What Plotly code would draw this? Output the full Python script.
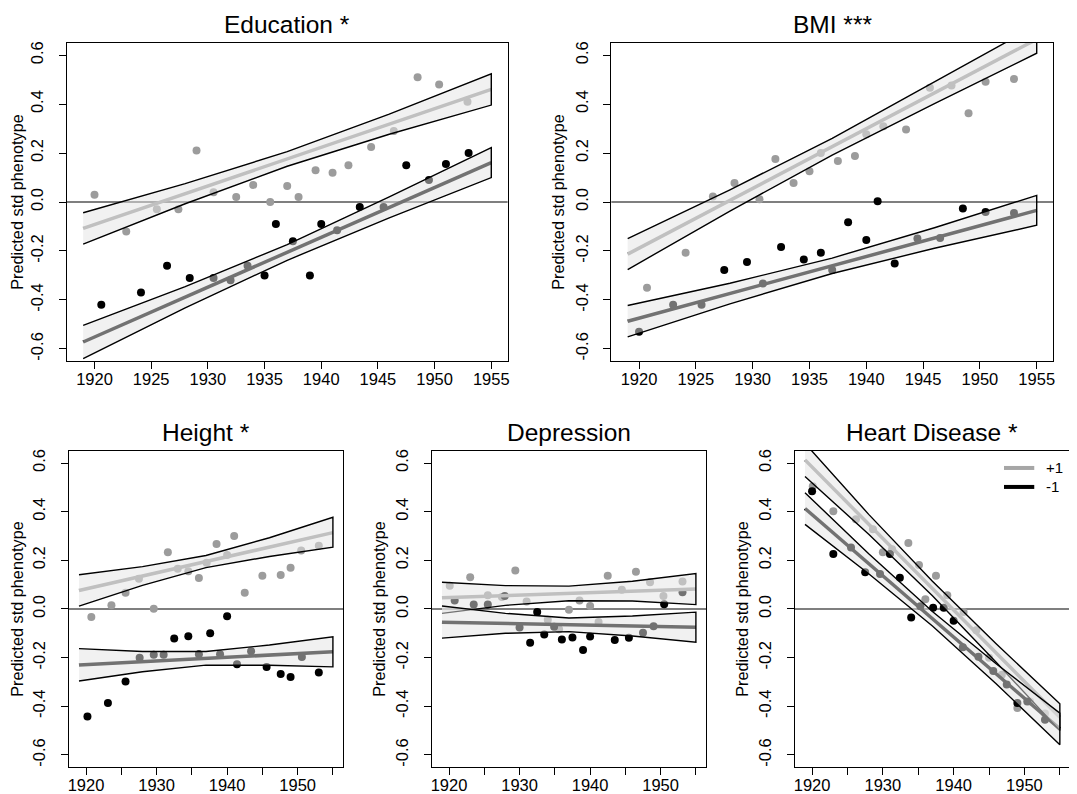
import plotly.graph_objects as go

# ---------------- data ----------------
FIT_YEARS = [1919, 1955]
BAND_YEARS = [1919, 1928, 1937, 1946, 1955]
Y_TICKS = [-0.6, -0.4, -0.2, 0.0, 0.2, 0.4, 0.6]
Y_TICK_TEXT = ["-0.6", "-0.4", "-0.2", "0.0", "0.2", "0.4", "0.6"]
X_TICKS = [1920, 1925, 1930, 1935, 1940, 1945, 1950, 1955]
X_TEXT_TOP = ["1920", "1925", "1930", "1935", "1940", "1945", "1950", "1955"]
X_TEXT_BOTTOM = ["1920", "", "1930", "", "1940", "", "1950", ""]
GROUP_NAMES = ["+1", "-1"]

# Education
edu_pos_x = [1920.0, 1922.8, 1925.5, 1927.4, 1929.0, 1930.5, 1932.5, 1934.0, 1935.5, 1937.0,
             1938.0, 1939.5, 1941.0, 1942.4, 1944.4, 1946.4, 1948.5, 1950.4, 1952.9]
edu_pos_y = [0.03, -0.12, -0.03, -0.03, 0.21, 0.04, 0.02, 0.07, 0.00, 0.065,
             0.02, 0.13, 0.12, 0.15, 0.225, 0.29, 0.51, 0.48, 0.41]
edu_neg_x = [1920.6, 1924.1, 1926.4, 1928.4, 1930.5, 1932.0, 1933.5, 1935.0, 1936.0, 1937.5,
             1939.0, 1940.0, 1941.4, 1943.4, 1945.5, 1947.5, 1949.5, 1951.0, 1953.0]
edu_neg_y = [-0.42, -0.37, -0.26, -0.31, -0.31, -0.32, -0.26, -0.30, -0.09, -0.16,
             -0.30, -0.09, -0.115, -0.02, -0.02, 0.15, 0.09, 0.155, 0.20]
edu_pos_fit = [-0.108, 0.46]
edu_neg_fit = [-0.572, 0.161]
edu_pos_up = [-0.044, 0.075, 0.206, 0.359, 0.524]
edu_pos_lo = [-0.172, -0.007, 0.146, 0.277, 0.396]
edu_neg_up = [-0.504, -0.346, -0.174, 0.021, 0.222]
edu_neg_lo = [-0.640, -0.432, -0.238, -0.065, 0.100]

# BMI
bmi_pos_x = [1920.7, 1924.1, 1926.5, 1928.4, 1930.6, 1932.0, 1933.6, 1935.0, 1936.0, 1937.5,
             1939.0, 1940.0, 1941.5, 1943.5, 1945.6, 1947.5, 1949.0, 1950.5, 1953.0]
bmi_pos_y = [-0.35, -0.207, 0.023, 0.078, 0.011, 0.176, 0.078, 0.126, 0.20, 0.168,
             0.188, 0.277, 0.31, 0.296, 0.467, 0.476, 0.363, 0.491, 0.503]
bmi_neg_x = [1920.0, 1923.0, 1925.5, 1927.5, 1929.5, 1930.9, 1932.5, 1934.5, 1936.0, 1937.0,
             1938.4, 1940.0, 1941.0, 1942.5, 1944.5, 1946.5, 1948.5, 1950.5, 1953.0]
bmi_neg_y = [-0.53, -0.42, -0.42, -0.278, -0.245, -0.333, -0.184, -0.235, -0.207, -0.278,
             -0.083, -0.155, 0.003, -0.251, -0.149, -0.147, -0.026, -0.041, -0.045]
bmi_pos_fit = [-0.213, 0.665]
bmi_neg_fit = [-0.487, -0.034]
bmi_pos_up = [-0.150, 0.050, 0.260, 0.489, 0.722]
bmi_pos_lo = [-0.276, -0.037, 0.192, 0.402, 0.608]
bmi_neg_up = [-0.423, -0.332, -0.229, -0.105, 0.027]
bmi_neg_lo = [-0.551, -0.416, -0.292, -0.189, -0.095]

# Height
hgt_pos_x = [1920.75, 1923.6, 1925.6, 1927.5, 1929.6, 1931.6, 1933.0, 1934.5, 1936.0, 1937.1,
             1938.5, 1940.0, 1941.0, 1942.5, 1945.0, 1947.6, 1949.0, 1950.5, 1953.0]
hgt_pos_y = [-0.033, 0.015, 0.067, 0.124, 0.001, 0.233, 0.165, 0.155, 0.127, 0.19,
             0.267, 0.222, 0.30, 0.067, 0.137, 0.14, 0.17, 0.24, 0.26]
hgt_neg_x = [1920.2, 1923.1, 1925.6, 1927.6, 1929.6, 1931.0, 1932.5, 1934.5, 1936.0, 1937.6,
             1939.0, 1940.0, 1941.4, 1943.4, 1945.6, 1947.6, 1949.0, 1950.6, 1953.0]
hgt_neg_y = [-0.442, -0.386, -0.298, -0.20, -0.188, -0.188, -0.121, -0.112, -0.186, -0.10,
             -0.186, -0.03, -0.227, -0.174, -0.238, -0.267, -0.28, -0.197, -0.261]
hgt_pos_fit = [0.076, 0.314]
hgt_neg_fit = [-0.23, -0.176]
hgt_pos_up = [0.141, 0.174, 0.220, 0.293, 0.377]
hgt_pos_lo = [0.012, 0.097, 0.170, 0.216, 0.254]
hgt_neg_up = [-0.163, -0.175, -0.175, -0.148, -0.114]
hgt_neg_lo = [-0.296, -0.258, -0.231, -0.231, -0.238]

# Depression
dep_pos_x = [1920.1, 1923.0, 1925.5, 1927.5, 1929.4, 1931.0, 1934.0, 1935.6, 1937.0, 1938.5,
             1940.0, 1941.2, 1942.5, 1944.5, 1946.5, 1948.5, 1950.4, 1953.1]
dep_pos_y = [0.096, 0.13, 0.056, 0.049, 0.158, 0.031, -0.044, -0.083, -0.003, 0.035,
             0.012, -0.053, 0.137, 0.079, 0.153, 0.11, 0.053, 0.113]
dep_neg_x = [1920.8, 1923.5, 1925.5, 1927.9, 1930.0, 1931.5, 1932.5, 1933.5, 1934.9, 1936.0,
             1937.5, 1939.0, 1940.0, 1943.5, 1945.5, 1947.5, 1949.0, 1950.5, 1953.1]
dep_neg_y = [0.035, 0.018, 0.018, 0.053, -0.076, -0.139, -0.012, -0.105, -0.073, -0.125,
             -0.117, -0.169, -0.113, -0.127, -0.118, -0.098, -0.071, 0.019, 0.069]
dep_pos_fit = [0.046, 0.082]
dep_neg_fit = [-0.054, -0.075]
dep_pos_up = [0.110, 0.096, 0.094, 0.114, 0.146]
dep_pos_lo = [-0.018, 0.015, 0.034, 0.033, 0.018]
dep_neg_up = [0.012, -0.018, -0.037, -0.029, -0.013]
dep_neg_lo = [-0.120, -0.100, -0.093, -0.111, -0.137]

# Heart Disease
hrt_pos_x = [1920.1, 1923.0, 1926.2, 1928.6, 1930.0, 1931.3, 1933.6, 1935.1, 1936.0, 1937.5,
             1939.1, 1941.4, 1943.2, 1945.0, 1946.8, 1949.0, 1950.8, 1952.9]
hrt_pos_y = [0.505, 0.402, 0.369, 0.328, 0.233, 0.246, 0.271, 0.181, 0.04, 0.137,
             0.056, -0.012, -0.087, -0.2, -0.27, -0.407, -0.38, -0.43]
hrt_neg_x = [1920.0, 1923.0, 1925.5, 1927.5, 1929.6, 1931.0, 1932.4, 1934.0, 1935.3, 1937.1,
             1938.6, 1940.0, 1941.3, 1943.5, 1945.6, 1947.5, 1949.0, 1950.4, 1952.9]
hrt_neg_y = [0.484, 0.226, 0.253, 0.151, 0.144, 0.226, 0.128, -0.035, 0.011, 0.005,
             0.005, -0.048, -0.157, -0.196, -0.255, -0.31, -0.386, -0.38, -0.455]
hrt_pos_fit = [0.613, -0.445]
hrt_neg_fit = [0.413, -0.493]
hrt_pos_up = [0.681, 0.389, 0.114, -0.143, -0.390]
hrt_pos_lo = [0.545, 0.307, 0.054, -0.219, -0.500]
hrt_neg_up = [0.478, 0.227, -0.010, -0.225, -0.428]
hrt_neg_lo = [0.348, 0.145, -0.070, -0.307, -0.558]

panels = [
    dict(title="Education *", pos=(edu_pos_x, edu_pos_y), neg=(edu_neg_x, edu_neg_y),
         pos_fit=edu_pos_fit, neg_fit=edu_neg_fit,
         pos_band=(edu_pos_up, edu_pos_lo), neg_band=(edu_neg_up, edu_neg_lo)),
    dict(title="BMI ***", pos=(bmi_pos_x, bmi_pos_y), neg=(bmi_neg_x, bmi_neg_y),
         pos_fit=bmi_pos_fit, neg_fit=bmi_neg_fit,
         pos_band=(bmi_pos_up, bmi_pos_lo), neg_band=(bmi_neg_up, bmi_neg_lo)),
    dict(title="Height *", pos=(hgt_pos_x, hgt_pos_y), neg=(hgt_neg_x, hgt_neg_y),
         pos_fit=hgt_pos_fit, neg_fit=hgt_neg_fit,
         pos_band=(hgt_pos_up, hgt_pos_lo), neg_band=(hgt_neg_up, hgt_neg_lo)),
    dict(title="Depression", pos=(dep_pos_x, dep_pos_y), neg=(dep_neg_x, dep_neg_y),
         pos_fit=dep_pos_fit, neg_fit=dep_neg_fit,
         pos_band=(dep_pos_up, dep_pos_lo), neg_band=(dep_neg_up, dep_neg_lo)),
    dict(title="Heart Disease *", pos=(hrt_pos_x, hrt_pos_y), neg=(hrt_neg_x, hrt_neg_y),
         pos_fit=hrt_pos_fit, neg_fit=hrt_neg_fit,
         pos_band=(hrt_pos_up, hrt_pos_lo), neg_band=(hrt_neg_up, hrt_neg_lo)),
]

# ---------------- layout geometry (pixels of the 1077x794 page) ----------------
W, H = 1077, 794
boxes = [  # left, right, top, bottom
    (58, 500, 33, 352),
    (604, 1047, 33, 352),
    (60, 335, 442, 759),
    (424, 699, 442, 759),
    (788, 1064, 442, 759),
]

GRAY = "#9c9c9c"
LEGEND_GRAY = "#a6a6a6"
BLACK = "#000000"
BAND_FILL = "rgba(228,228,228,0.5)"
FONT = "Liberation Sans, Arial, Helvetica, sans-serif"
TICK_SIZE = 16.5

fig = go.Figure()
layout = dict(
    width=W, height=H, margin=dict(l=0, r=0, t=0, b=0), autosize=False,
    paper_bgcolor="white", plot_bgcolor="white",
    font=dict(family=FONT, color="black", size=15),
    showlegend=False,
    annotations=[], shapes=[],
)

for i, p in enumerate(panels):
    k = i + 1
    suffix = str(k) if k > 1 else ""
    xa, ya = "x" + suffix, "y" + suffix
    L, R, T, B = boxes[i]
    xdom = [L / W, R / W]
    ydom = [1 - B / H, 1 - T / H]
    top_row = i < 2
    layout["xaxis" + suffix] = dict(
        domain=xdom, anchor=ya, range=[1917.56, 1956.44],
        tickmode="array", tickvals=X_TICKS,
        ticktext=X_TEXT_TOP if top_row else X_TEXT_BOTTOM,
        ticks="outside", ticklen=7, tickwidth=1.2, tickcolor="black",
        showline=True, mirror=True, linecolor="black", linewidth=1.4,
        showgrid=False, zeroline=False, tickfont=dict(size=TICK_SIZE),
        ticklabelstandoff=-4,
    )
    layout["yaxis" + suffix] = dict(
        domain=ydom, anchor=xa, range=[-0.65, 0.65],
        tickmode="array", tickvals=Y_TICKS, ticktext=Y_TICK_TEXT, tickangle=-90,
        ticks="outside", ticklen=7, tickwidth=1.2, tickcolor="black",
        showline=True, mirror=True, linecolor="black", linewidth=1.4,
        showgrid=False, zeroline=False, tickfont=dict(size=TICK_SIZE),
        title=dict(text="Predicted std phenotype", font=dict(size=16.3), standoff=3),
        ticklabelstandoff=9,
    )
    layout["shapes"].append(dict(type="line", xref=f"{xa} domain", yref=ya,
                                 x0=0, x1=1, y0=0, y1=0, layer="below",
                                 line=dict(color="black", width=1.2)))
    layout["annotations"].append(dict(
        text=p["title"], xref="paper", yref="paper",
        x=(xdom[0] + xdom[1]) / 2, y=ydom[1], xanchor="center", yanchor="bottom",
        yshift=3, showarrow=False, font=dict(size=24.5, family=FONT, color="black")))

    # points
    for (px, py), col in ((p["pos"], GRAY), (p["neg"], BLACK)):
        fig.add_trace(go.Scatter(x=px, y=py, mode="markers", xaxis=xa, yaxis=ya,
                                 marker=dict(size=8, color=col, line=dict(width=0)),
                                 showlegend=False, hoverinfo="skip"))
    # fitted lines
    for fit, col, name in ((p["pos_fit"], GRAY, GROUP_NAMES[0]), (p["neg_fit"], BLACK, GROUP_NAMES[1])):
        fig.add_trace(go.Scatter(x=FIT_YEARS, y=fit, mode="lines", xaxis=xa, yaxis=ya,
                                 line=dict(color=col, width=3.5), name=name,
                                 showlegend=False, hoverinfo="skip"))
    # confidence bands (drawn on top, translucent)
    for up, lo in (p["pos_band"], p["neg_band"]):
        fig.add_trace(go.Scatter(x=BAND_YEARS + BAND_YEARS[::-1], y=list(up) + list(lo)[::-1],
                                 mode="lines", fill="toself", fillcolor=BAND_FILL,
                                 line=dict(color="black", width=1.4), xaxis=xa, yaxis=ya,
                                 showlegend=False, hoverinfo="skip"))

# legend (inside the Heart Disease panel, top right)
legend_rows = [(GROUP_NAMES[0], LEGEND_GRAY, 0.946), (GROUP_NAMES[1], BLACK, 0.886)]
for name, col, yy in legend_rows:
    layout["shapes"].append(dict(type="line", xref="x5 domain", yref="y5 domain",
                                 x0=0.76, x1=0.87, y0=yy, y1=yy,
                                 line=dict(color=col, width=4)))
    layout["annotations"].append(dict(text=name, xref="x5 domain", yref="y5 domain",
                                      x=0.905, y=yy, xanchor="left", yanchor="middle",
                                      showarrow=False, font=dict(size=15, family=FONT, color="black")))

fig.update_layout(**layout)
fig.write_html("out.html")
